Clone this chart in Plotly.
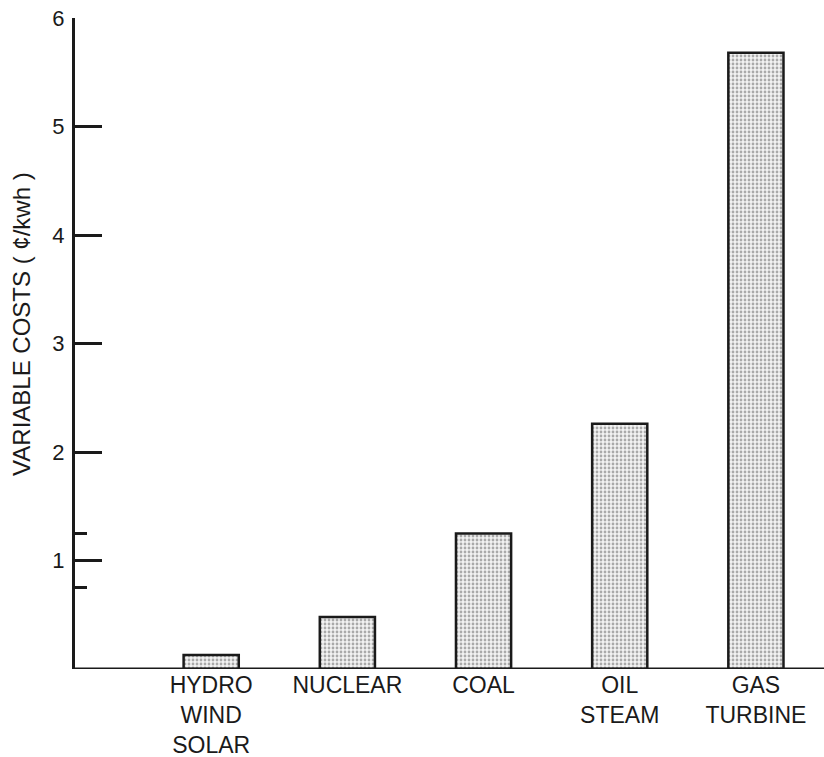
import plotly.graph_objects as go

categories = ["HYDRO<br>WIND<br>SOLAR", "NUCLEAR", "COAL", "OIL<br>STEAM", "GAS<br>TURBINE"]
variable_costs = [0.13, 0.48, 1.25, 2.26, 5.68]
y_tick_vals = [1, 2, 3, 4, 5, 6]
y_tick_text = ["1", "2", "3", "4", "5", "6"]
y_minor_vals = [0.75, 1.25]
y_title = "VARIABLE COSTS ( ¢/kwh )"

INK = "#1a1a1a"
FONT = "Liberation Sans, Arial, sans-serif"

fig = go.Figure()
fig.add_trace(go.Bar(
    x=list(range(len(categories))),
    y=variable_costs,
    width=0.405,
    marker=dict(
        color="white",
        line=dict(color=INK, width=2.5),
        pattern=dict(shape=".", fgcolor="#5f5f5f", bgcolor="#f2f2f2", size=4, solidity=0.38),
    ),
    hoverinfo="skip",
))

fig.update_layout(
    width=824, height=757,
    margin=dict(l=75, r=0, t=18, b=88),
    paper_bgcolor="white",
    plot_bgcolor="white",
    showlegend=False,
    font=dict(family=FONT, color=INK),
    xaxis=dict(
        range=[-1.0, 4.5],
        automargin=False,
        tickmode="array",
        tickvals=list(range(len(categories))),
        ticktext=categories,
        ticks="",
        showgrid=False,
        zeroline=False,
        showline=False,
        tickfont=dict(size=23, color=INK),
        ticklabelstandoff=0,
        ticklabeloverflow="allow",
    ),
    yaxis=dict(
        range=[0, 6],
        automargin=False,
        tickmode="array",
        tickvals=y_tick_vals,
        ticktext=y_tick_text,
        ticks="inside",
        ticklen=27,
        tickwidth=2.5,
        tickcolor=INK,
        minor=dict(tickmode="array", tickvals=y_minor_vals, ticks="inside",
                   ticklen=12, tickwidth=2.5, tickcolor=INK, showgrid=False),
        showgrid=False,
        zeroline=False,
        showline=True,
        linecolor=INK,
        linewidth=3,
        tickfont=dict(size=22, color=INK),
        ticklabelstandoff=3,
        ticklabeloverflow="allow",
    ),
    annotations=[dict(
        text=y_title, xref="paper", yref="paper", x=-0.0708, y=0.530,
        xanchor="center", yanchor="middle", textangle=-90, showarrow=False,
        font=dict(size=24, color=INK, family=FONT),
    )],
    shapes=[dict(type="line", xref="paper", yref="y", x0=0, x1=1, y0=0, y1=0,
                 line=dict(color=INK, width=3), layer="above")],
)

# remove the page's default 8px body margin so the figure fills the window exactly
fig.write_html(
    "out.html",
    config={"displayModeBar": False},
    post_script="document.body.style.margin='0';document.body.style.overflow='hidden';",
)
